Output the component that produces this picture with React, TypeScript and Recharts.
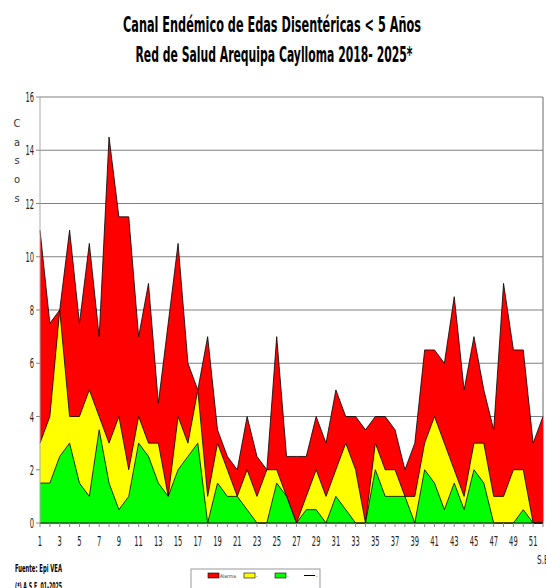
import { AreaChart, Area, XAxis, YAxis, CartesianGrid } from 'recharts';

const NARROW = "'Liberation Sans Narrow', 'DejaVu Sans Condensed', Arial, sans-serif";

const titleLines = ['Canal Endémico de Edas Disentéricas  < 5 Años', 'Red  de Salud Arequipa Caylloma 2018- 2025*'];
const weeks = Array.from({ length: 52 }, (_, i) => String(i + 1));
const yTicks = [0, 2, 4, 6, 8, 10, 12, 14, 16];

// upper bounds of each zone per epidemiological week
const alarma = [11, 7.5, 8, 11, 7.5, 10.5, 7, 14.5, 11.5, 11.5, 7, 9, 4.5, 7.5, 10.5, 6, 5, 7,
  3.5, 2.5, 2, 4, 2.5, 2, 7, 2.5, 2.5, 2.5, 4, 3, 5, 4, 4, 3.5, 4,
  4, 3.5, 2, 3, 6.5, 6.5, 6, 8.5, 5, 7, 5, 3.5, 9, 6.5, 6.5, 3, 4];
const seguridad = [3, 4, 8, 4, 4, 5, 4, 3, 4, 2, 4, 3, 3, 1, 4, 3, 5, 1,
  3, 2, 1, 2, 1, 2, 2, 1, 0, 1, 2, 1, 2, 3, 2, 0, 3,
  2, 2, 1, 1, 3, 4, 3, 2, 1, 3, 3, 1, 1, 2, 2, 0, 0];
const exito = [1.5, 1.5, 2.5, 3, 1.5, 1, 3.5, 1.5, 0.5, 1, 3, 2.5, 1.5, 1, 2, 2.5, 3, 0,
  1.5, 1, 1, 0.5, 0, 0, 1.5, 1, 0, 0.5, 0.5, 0, 1, 0.5, 0, 0, 2,
  1, 1, 1, 0, 2, 1.5, 0.5, 1.5, 0.5, 2, 1.5, 0, 0, 0, 0.5, 0, 0];

const legendItems = [
  { label: 'Alarma', color: '#FF0000', kind: 'rect' },
  { label: '-', color: '#FFFF00', kind: 'rect' },
  { label: '-', color: '#00FF00', kind: 'rect' },
  { label: '-', color: '#000000', kind: 'line' },
];

const data = weeks.map((w, i) => ({
  week: w,
  alarma: alarma[i],
  seguridad: seguridad[i],
  exito: exito[i],
}));

const XTick = (props: any) => {
  const { x, y, payload } = props;
  const n = Number(payload.value);
  if (n % 2 === 0) return <g />;
  const s = String(n);
  return (
    <text x={x} y={y} dy={17} textAnchor="middle" fontSize={14} fill="#222" fontFamily={NARROW}
      textLength={s.length * 4.3} lengthAdjust="spacingAndGlyphs">
      {s}
    </text>
  );
};

const YTick = (props: any) => {
  const { x, y, payload } = props;
  const s = String(payload.value);
  return (
    <text x={x} y={y} dy={5} textAnchor="end" fontSize={14} fill="#222" fontFamily={NARROW}
      textLength={s.length * 4.3} lengthAdjust="spacingAndGlyphs">
      {s}
    </text>
  );
};

export default function App() {
  return (
    <div style={{ position: 'absolute', left: 0, top: 0, width: 546, height: 588, background: '#fff', overflow: 'hidden' }}>
      <AreaChart width={546} height={588} data={data} margin={{ top: 97, right: 3, bottom: 35, left: 0 }}>
        <CartesianGrid
          stroke="#808080"
          strokeWidth={1.2}
          verticalCoordinatesGenerator={({ offset }: any) => [offset.left + offset.width]}
        />
        <XAxis dataKey="week" interval={0} tick={<XTick />} tickSize={4} tickLine={{ stroke: '#888' }}
          axisLine={{ stroke: '#000' }} height={30} />
        <YAxis type="number" domain={[0, 16]} ticks={yTicks} tick={<YTick />} tickSize={4}
          tickLine={{ stroke: '#888' }} axisLine={{ stroke: '#aaa' }} width={40} />
        <Area type="linear" dataKey="alarma" stroke="#000" strokeWidth={0.8} fill="#FF0000" fillOpacity={1}
          isAnimationActive={false} dot={false} activeDot={false} />
        <Area type="linear" dataKey="seguridad" stroke="#000" strokeWidth={0.8} fill="#FFFF00" fillOpacity={1}
          isAnimationActive={false} dot={false} activeDot={false} />
        <Area type="linear" dataKey="exito" stroke="#000" strokeWidth={0.8} fill="#00FF00" fillOpacity={1}
          isAnimationActive={false} dot={false} activeDot={false} />
      </AreaChart>

      <svg width={546} height={588} style={{ position: 'absolute', left: 0, top: 0, pointerEvents: 'none' }}
        fontFamily={NARROW}>
        <text x={272} y={32} textAnchor="middle" fontSize={21.5} fontWeight="bold" fill="#000"
          textLength={298} lengthAdjust="spacingAndGlyphs">{titleLines[0]}</text>
        <text x={274} y={62} textAnchor="middle" fontSize={21.5} fontWeight="bold" fill="#000"
          textLength={277} lengthAdjust="spacingAndGlyphs">{titleLines[1]}</text>

        {['C', 'a', 's', 'o', 's'].map((c, i) => (
          <text key={i} x={17} y={127 + i * 18.7} textAnchor="middle" fontSize={11} fill="#333">{c}</text>
        ))}

        <text x={537} y={564} fontSize={13} fill="#222" textLength={14} lengthAdjust="spacingAndGlyphs">S.E.</text>

        <text x={15} y={572} fontSize={10} fontWeight="bold" fill="#000" textLength={47}
          lengthAdjust="spacingAndGlyphs">Fuente: Epi VEA</text>
        <text x={15} y={590} fontSize={10} fontWeight="bold" fill="#000" textLength={47}
          lengthAdjust="spacingAndGlyphs">(*) A.S.E. 01-2025</text>

        <rect x={191} y={569} width={129} height={40} fill="#fff" stroke="#999" />
        {legendItems.map((it, i) => {
          const lx = [208, 244, 275, 304][i];
          return (
            <g key={i}>
              {it.kind === 'rect' ? (
                <rect x={lx} y={573} width={11} height={5} fill={it.color} stroke="#000" strokeWidth={0.6} />
              ) : (
                <line x1={lx} x2={lx + 11} y1={575.5} y2={575.5} stroke="#000" strokeWidth={1} />
              )}
              <text x={lx + 12} y={577.5} fontSize={5} fill="#333">{it.label}</text>
            </g>
          );
        })}
      </svg>
    </div>
  );
}
